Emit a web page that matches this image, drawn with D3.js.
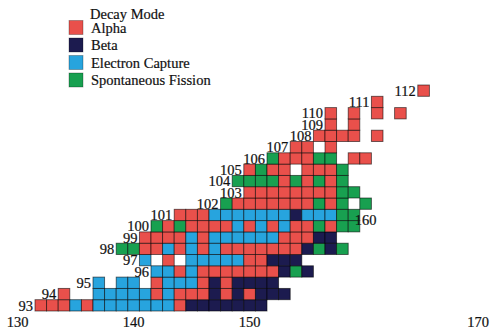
<!DOCTYPE html>
<html><head><meta charset="utf-8">
<script src="https://cdn.jsdelivr.net/npm/d3@7/dist/d3.min.js"></script>
<style>
html,body{margin:0;padding:0;background:#fff;}
svg{display:block;}
text{font-family:"Liberation Serif","Times New Roman",serif;fill:#111;stroke:#111;stroke-width:0.2px;}
</style></head>
<body>
<svg id="chart" width="490" height="331"></svg>
<script>
// ---- data ----
const modeKeys = ["a", "b", "e", "s"];
const modeNames = ["Alpha", "Beta", "Electron Capture", "Spontaneous Fission"];
const modeColors = ["#E9504B", "#1C1B4F", "#27A4DE", "#18A050"];
const legendTitle = "Decay Mode";

// proton number of each row, first neutron number, and decay mode of each cell ('.' = none)
const elementZ = [93, 94, 95, 96, 97, 98, 99, 100, 101, 102, 103, 104, 105, 106, 107, 108, 109, 110, 111, 112];
const firstN   = [132, 134, 137, 142, 141, 139, 141, 142, 144, 148, 150, 149, 150, 152, 154, 156, 157, 157, 161, 165];
const decayRows = [
  "aaaeaeeeeeeeabbbbbbb",
  "a..eeeeeaeaaabababbb",
  "e.ee.aeeeababbbb",
  "eeaeaaaaaaabsb",
  "e.a.eeeeeaabbb",
  "ssaaeaeaeaaaaaaabsbs",
  "aaaaeaeeeeeeaaabb",
  "sasaaaaeaeaeaasass",
  "aaaeeeeeeebeeess",
  "saaaaaaasas.s",
  "aaaaaaaass",
  "ssssasasas",
  "asaa.aaas",
  "saaass.aa",
  "aa.a",
  "aaaa.a",
  "a.a",
  "a.a.a.a",
  "a",
  "a"
];
const bottomTicks = [130, 140, 150, 170];
const innerTick = 160;

// ---- chart ----
const W = 490;
const svg = d3.select("#chart");
const x = d3.scaleLinear().domain([129.5, 170.5]).range([11.8, 11.8 + 41 * 11.6]);
const y = d3.scaleLinear().domain([92.5, 112.5]).range([311, 311 - 20 * 11.3]);
const color = d3.scaleOrdinal().domain(modeKeys).range(modeColors);

const cells = [];
elementZ.forEach((z, i) => {
  decayRows[i].split("").forEach((m, j) => {
    if (m !== ".") cells.push({z: z, n: firstN[i] + j, m: m});
  });
});

svg.append("g").selectAll("rect").data(cells).join("rect")
  .attr("x", d => x(d.n - 0.5))
  .attr("y", d => y(d.z + 0.5))
  .attr("width", d => x(d.n + 0.5) - x(d.n - 0.5))
  .attr("height", d => y(d.z - 0.5) - y(d.z + 0.5))
  .attr("fill", d => color(d.m))
  .attr("stroke", "#000")
  .attr("stroke-opacity", 0.6)
  .attr("stroke-width", 0.9);

// element labels
svg.append("g").selectAll("text").data(elementZ).join("text")
  .attr("x", (z, i) => x(firstN[i] - 0.5) - 2)
  .attr("y", z => y(z))
  .attr("dy", "0.36em")
  .attr("text-anchor", "end")
  .attr("font-size", "14.5px")
  .text(z => z);

// bottom tick labels (neutron number)
svg.append("g").selectAll("text").data(bottomTicks).join("text")
  .attr("x", d => Math.min(x(d), W - 12))
  .attr("y", y(92.5) + 15.5)
  .attr("text-anchor", "middle")
  .attr("font-size", "14.5px")
  .text(d => d);

// inner 160 label
svg.append("text")
  .attr("x", x(innerTick))
  .attr("y", y(100.6))
  .attr("dy", "0.36em")
  .attr("text-anchor", "middle")
  .attr("font-size", "14.5px")
  .text(innerTick);

// legend
const lg = svg.append("g");
lg.append("text").attr("x", 90).attr("y", 18.5).attr("font-size", "14.5px").text(legendTitle);
const items = lg.selectAll("g.item").data(modeNames).join("g").attr("class", "item")
  .attr("transform", (d, i) => `translate(69,${20.5 + i * 17.5})`);
items.append("rect").attr("width", 14).attr("height", 14)
  .attr("fill", (d, i) => modeColors[i]).attr("stroke", "#000").attr("stroke-opacity", 0.35).attr("stroke-width", 0.8);
items.append("text").attr("x", 22).attr("y", 7).attr("dy", "0.36em").attr("font-size", "14.5px").text(d => d);
</script>
</body></html>
